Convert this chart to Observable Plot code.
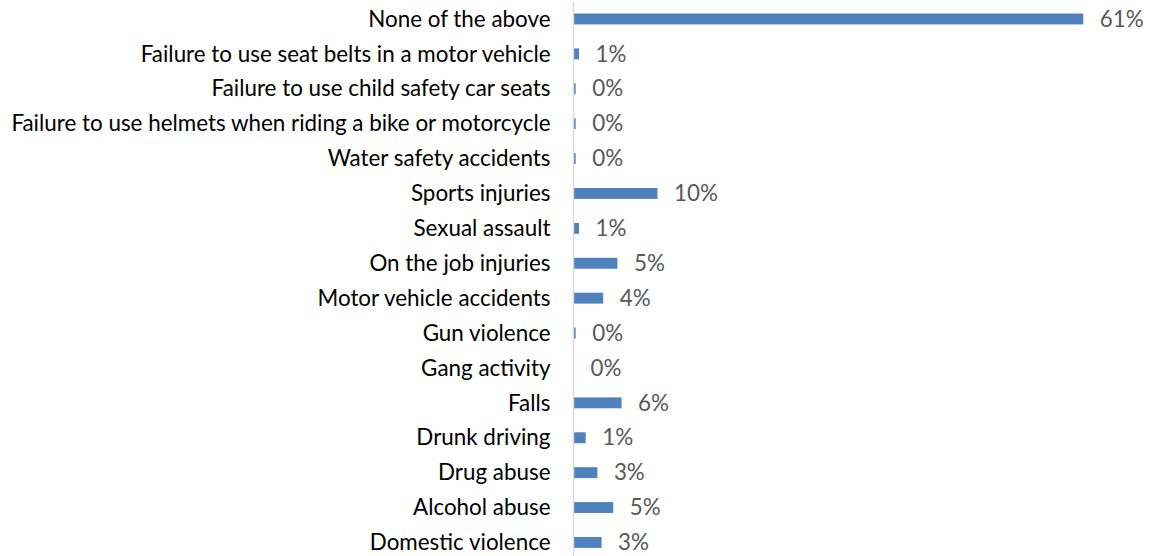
<!DOCTYPE html>
<html>
<head>
<meta charset="utf-8">
<script src="https://cdn.jsdelivr.net/npm/d3@7"></script>
<script src="https://cdn.jsdelivr.net/npm/@observablehq/plot@0.6"></script>
<style>
  html, body { margin: 0; padding: 0; background: #fff; overflow: hidden; }
  #chart svg { display: block; }
</style>
</head>
<body>
<div id="chart"></div>
<script>
const categories = [
  "None of the above",
  "Failure to use seat belts in a motor vehicle",
  "Failure to use child safety car seats",
  "Failure to use helmets when riding a bike or motorcycle",
  "Water safety accidents",
  "Sports injuries",
  "Sexual assault",
  "On the job injuries",
  "Motor vehicle accidents",
  "Gun violence",
  "Gang activity",
  "Falls",
  "Drunk driving",
  "Drug abuse",
  "Alcohol abuse",
  "Domestic violence"
];
const values = [61, 0.6, 0.2, 0.2, 0.2, 10.0, 0.6, 5.2, 3.5, 0.2, 0, 5.7, 1.4, 2.8, 4.7, 3.3];
const valueLabels = ["61%", "1%", "0%", "0%", "0%", "10%", "1%", "5%", "4%", "0%", "0%", "6%", "1%", "3%", "5%", "3%"];

const data = categories.map((c, i) => ({cat: c, value: values[i], label: valueLabels[i]}));

const chart = Plot.plot({
  width: 1154,
  height: 560,
  marginLeft: 574,
  marginRight: 70.7,
  marginTop: 1.5,
  marginBottom: 0.1,
  style: {fontFamily: "Lato, 'Open Sans', sans-serif", fontSize: "22.4px", background: "#fff"},
  x: {domain: [0, 61], axis: null},
  y: {domain: categories, axis: null, padding: 0, round: false},
  marks: [
    Plot.barX(data, {x: "value", y: "cat", fill: "#4f81bd", insetTop: 12, insetBottom: 12}),
    Plot.ruleX([0], {stroke: "#d9d9d9", strokeWidth: 1.5, dx: -1}),
    Plot.text(data, {x: "value", y: "cat", text: "label", textAnchor: "start", dx: 16, fill: "#595959"}),
    Plot.text(data, {y: "cat", text: "cat", frameAnchor: "left", textAnchor: "end", dx: -24, fill: "#000"})
  ]
});
document.getElementById("chart").appendChild(chart);
</script>
</body>
</html>
